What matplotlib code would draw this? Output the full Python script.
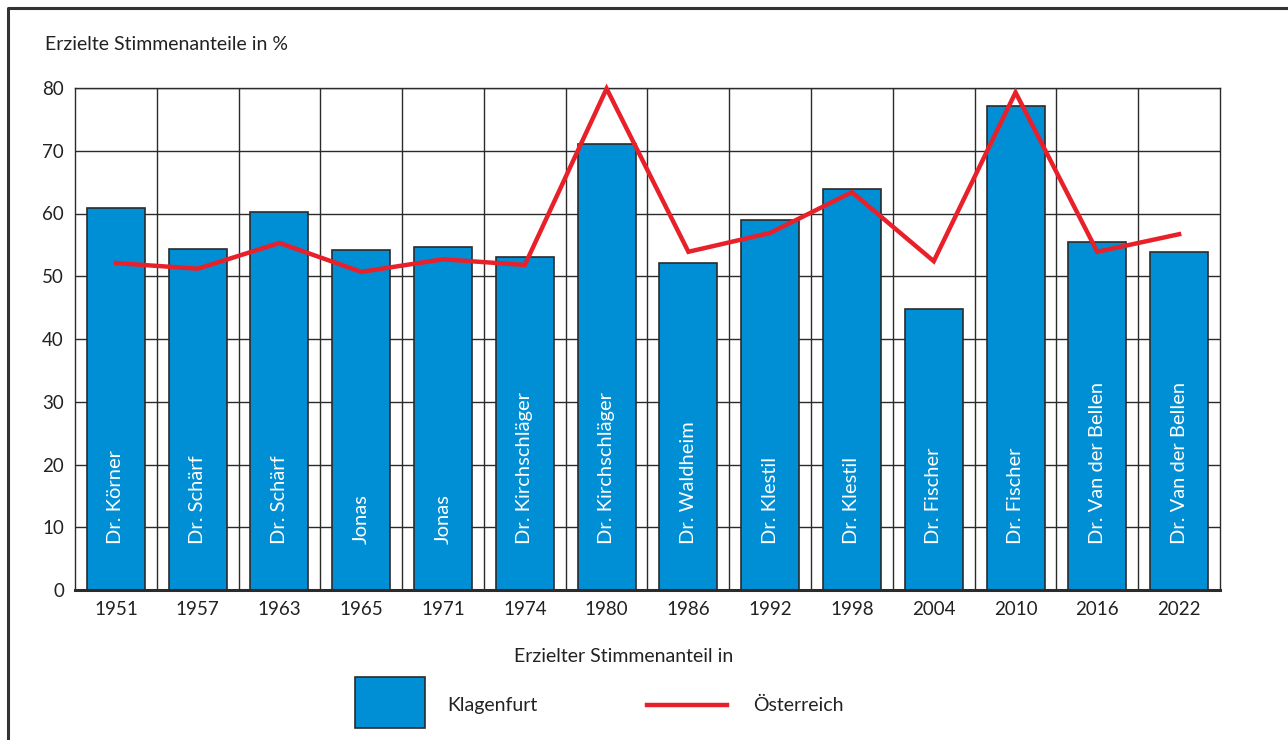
import matplotlib
matplotlib.use("Agg")
import matplotlib.pyplot as plt
from matplotlib.lines import Line2D
from matplotlib.patches import Rectangle
import numpy as np

plt.rcParams['font.family'] = ['Lato', 'DejaVu Sans']

# Daten
jahre = ["1951", "1957", "1963", "1965", "1971", "1974", "1980",
         "1986", "1992", "1998", "2004", "2010", "2016", "2022"]
kandidaten = ["Dr. Körner", "Dr. Schärf", "Dr. Schärf", "Jonas", "Jonas",
              "Dr. Kirchschläger", "Dr. Kirchschläger", "Dr. Waldheim",
              "Dr. Klestil", "Dr. Klestil", "Dr. Fischer", "Dr. Fischer",
              "Dr. Van der Bellen", "Dr. Van der Bellen"]
klagenfurt = [60.9, 54.3, 60.2, 54.2, 54.7, 53.1, 71.1,
              52.1, 59.0, 63.9, 44.8, 77.1, 55.4, 53.9]
oesterreich = [52.1, 51.2, 55.3, 50.7, 52.7, 51.8, 79.9,
               53.9, 56.9, 63.4, 52.4, 79.3, 53.9, 56.7]

blau = '#008fd5'
rot = '#e8202a'
dunkel = '#2b2b2b'
schrift = '#222222'

fig = plt.figure(figsize=(12.88, 7.40), dpi=100)
ax = fig.add_axes([75/1288, 1-590/740, 1145/1288, 502/740])

x = np.arange(len(jahre))
ax.bar(x, klagenfurt, width=0.71, color=blau, edgecolor=dunkel,
       linewidth=1.2, zorder=3)
ax.plot(x, oesterreich, color=rot, linewidth=3.2, zorder=4,
        clip_on=False, solid_joinstyle='miter')

# Namen in den Balken
for xi, name in zip(x, kandidaten):
    ax.text(xi, 7.3, name, rotation=90, ha='center', va='bottom',
            color='white', fontsize=14.5, zorder=5)

# Gitter
for yv in range(10, 81, 10):
    ax.axhline(yv, color=dunkel, linewidth=1.0, zorder=1)
for xv in np.arange(0.5, len(jahre) - 0.5, 1):
    ax.axvline(xv, color=dunkel, linewidth=1.0, zorder=1)

ax.set_xlim(-0.5, len(jahre) - 0.5)
ax.set_ylim(0, 80)
ax.set_xticks(x)
ax.set_xticklabels(jahre, fontsize=13.5, color=schrift)
ax.set_yticks(range(0, 81, 10))
ax.set_yticklabels([str(v) for v in range(0, 81, 10)], fontsize=13.5, color=schrift)
ax.tick_params(length=0, pad=8)
ax.tick_params(axis='y', pad=8)

for s in ['top', 'right', 'left']:
    ax.spines[s].set_color(dunkel)
    ax.spines[s].set_linewidth(1.0)
ax.spines['bottom'].set_color(dunkel)
ax.spines['bottom'].set_linewidth(2.2)
ax.spines['bottom'].set_zorder(6)

# Beschriftungen
fig.text(45/1288, 1-45/740, 'Erzielte Stimmenanteile in %', fontsize=14,
         ha='left', va='center', color=schrift)
fig.text(624/1288, 1-657/740, 'Erzielter Stimmenanteil in', fontsize=14,
         ha='center', va='center', color=schrift)

# Legende
fig.patches.append(Rectangle((355/1288, 1-728/740), 70/1288, 51/740,
                             transform=fig.transFigure, facecolor=blau,
                             edgecolor=dunkel, linewidth=1.2))
fig.text(447/1288, 1-705/740, 'Klagenfurt', fontsize=14, ha='left',
         va='center', color=schrift)
fig.lines.append(Line2D([647/1288, 727/1288], [1-705/740, 1-705/740],
                        transform=fig.transFigure, color=rot, linewidth=3.2))
fig.text(753/1288, 1-705/740, 'Österreich', fontsize=14, ha='left',
         va='center', color=schrift)

# Rahmen
fig.lines.append(Line2D([8/1288, 8/1288, 1], [0, 1-8/740, 1-8/740],
                        transform=fig.transFigure, color='#333333', linewidth=2.2))

fig.savefig('out.png', dpi=100)
